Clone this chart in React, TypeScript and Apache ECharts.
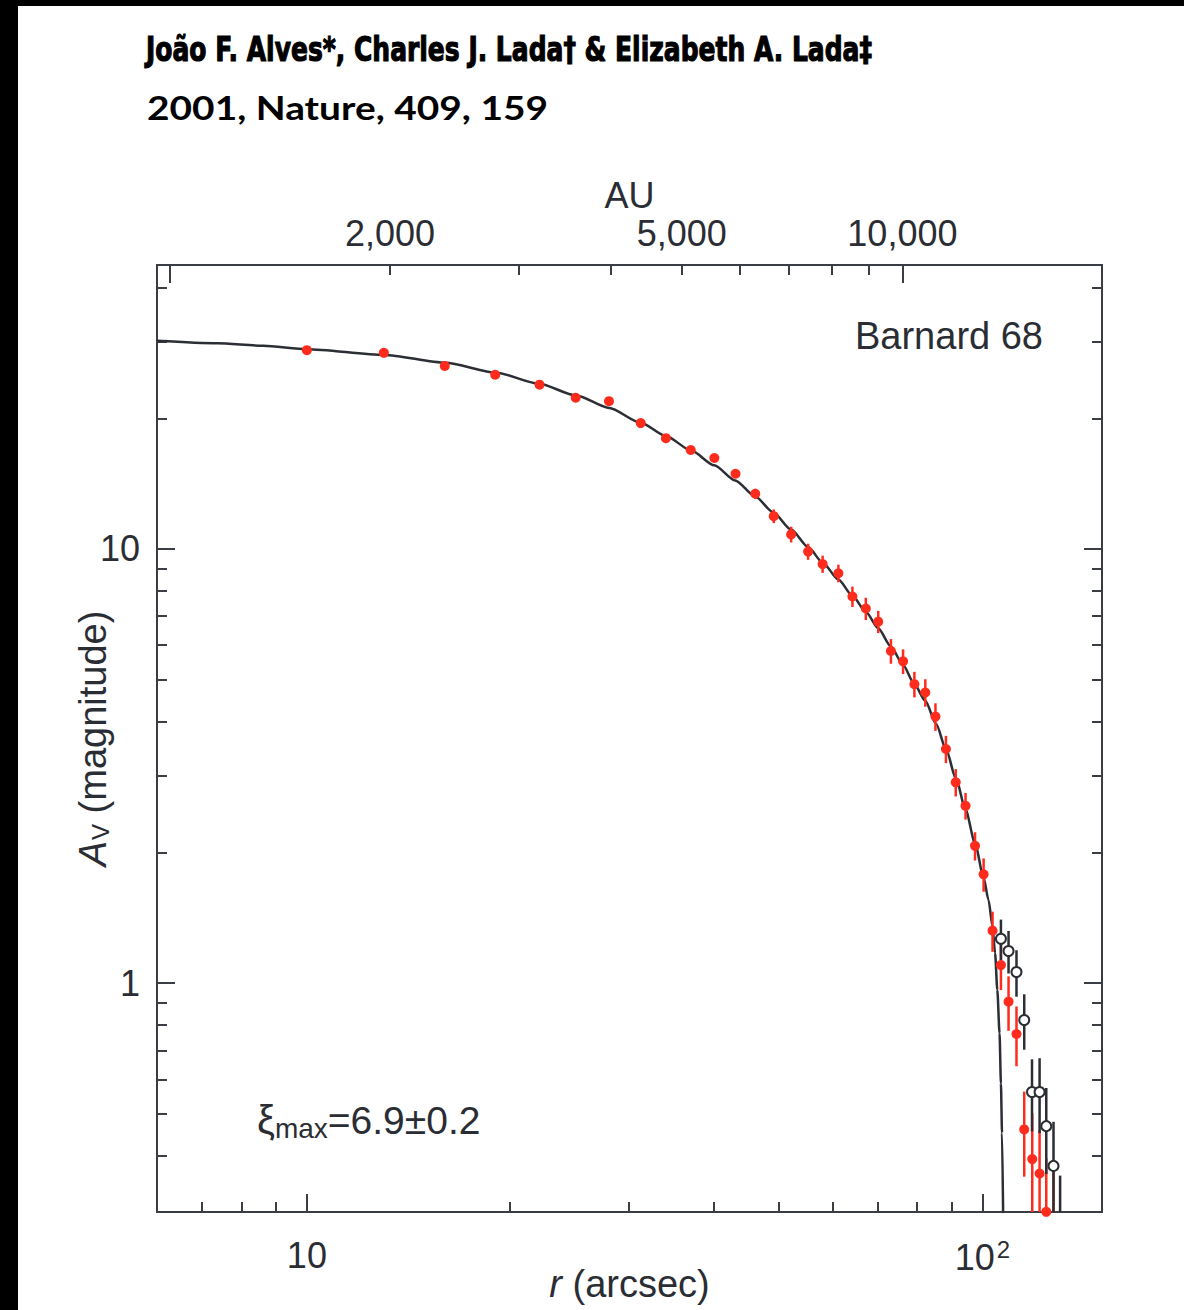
import React, { useEffect, useRef } from "react";
import * as echarts from "echarts";

// ---------------- data ----------------
// red filled points: radius (arcsec), A_V (mag), 1-sigma error (mag)
const redRadius = [10.0, 13.0, 16.0, 19.0, 22.1, 25.0, 28.0, 31.2, 34.0, 37.0, 40.1, 43.1, 46.1, 49.1, 52.1, 55.2, 58.0, 61.2, 64.2, 67.2, 70.1, 73.2, 76.3, 79.3, 82.3, 85.2, 88.3, 91.3, 94.4, 97.5, 100.4, 103.5, 106.5, 109.3, 112.3, 115.3, 118.5, 121.5, 124.3, 127.4];
const redAv = [28.7, 28.3, 26.4, 25.2, 23.9, 22.3, 21.9, 19.5, 18.0, 16.9, 16.2, 14.9, 13.4, 11.9, 10.8, 9.86, 9.23, 8.79, 7.77, 7.29, 6.80, 5.82, 5.51, 4.88, 4.67, 4.11, 3.46, 2.90, 2.56, 2.07, 1.78, 1.32, 1.10, 0.906, 0.763, 0.460, 0.393, 0.364, 0.297, 0.28];
const redErr = [0.1, 0.1, 0.1, 0.1, 0.1, 0.1, 0.1, 0.15, 0.15, 0.15, 0.2, 0.25, 0.36, 0.43, 0.45, 0.42, 0.42, 0.41, 0.42, 0.43, 0.40, 0.38, 0.36, 0.33, 0.34, 0.30, 0.25, 0.21, 0.18, 0.155, 0.157, 0.14, 0.137, 0.13, 0.12, 0.102, 0.108, 0.094, 0.098, 0.10];

// open (black) points
const openRadius = [106.5, 109.3, 112.3, 115.3, 118.4, 121.5, 124.3, 127.4, 130.3];
const openAv = [1.265, 1.185, 1.06, 0.822, 0.561, 0.561, 0.468, 0.379, 0.26];
const openErr = [0.135, 0.133, 0.13, 0.12, 0.106, 0.11, 0.105, 0.10, 0.10];

// Bonnor-Ebert fit curve (xi_max = 6.9)
const fitRadius = [6.0, 7.37, 8.62, 10.0, 13.02, 16.03, 19.07, 22.0, 25.04, 28.03, 31.15, 34.03, 37.06, 40.09, 43.05, 46.1, 49.0, 52.1, 55.2, 58.1, 61.2, 64.2, 67.3, 70.1, 73.2, 76.3, 79.2, 82.3, 85.4, 88.4, 91.4, 94.4, 97.5, 100.35, 102.1, 103.5, 104.4, 105.2, 106.0, 106.5, 106.9, 107.3];
const fitAv = [30.16, 29.76, 29.37, 28.85, 27.99, 26.85, 25.47, 24.05, 22.57, 21.13, 19.56, 18.19, 16.85, 15.58, 14.38, 13.21, 12.15, 11.08, 10.1, 9.275, 8.5, 7.8, 7.14, 6.57, 5.96, 5.4, 4.9, 4.47, 3.95, 3.44, 2.95, 2.51, 2.1, 1.755, 1.553, 1.348, 1.171, 0.964, 0.766, 0.587, 0.451, 0.295];

// ticks and labels
const xMajorTicks = [10, 100];
const xMinorTicks = [7, 8, 9, 20, 30, 40, 50, 60, 70, 80, 90];
const xTickLabels = [10, 100];
const yMajorTicks = [1, 10];
const yMinorTicks = [0.4, 0.5, 0.6, 0.7, 0.8, 0.9, 2, 3, 4, 5, 6, 7, 8, 9, 20, 30, 40];
const yTickLabels = [1, 10];
const auMajorTicks = [1000, 10000];
const auMinorTicks = [2000, 3000, 4000, 5000, 6000, 7000, 8000, 9000];
const auTickLabels = [2000, 5000, 10000];

const headerAuthors = "João F. Alves*, Charles J. Lada† & Elizabeth A. Lada‡";
const headerRef = "2001, Nature, 409, 159";
const objectName = "Barnard 68";

// axis ranges
const X_MIN = 6.0;
const X_MAX = 150.3;
const AU_MIN = 962;
const AU_MAX = 18720;
const Y_MIN = 0.2968;
const Y_MAX = 45.1;

// ---------------- styles ----------------
const TEXT = "#2a2d33";
const FRAME = "#3a3d43";
const RED = "#ff2b1c";
const DARK = "#2b2e34";
const FONT = '"Liberation Sans", Arial, Helvetica, sans-serif';

function fitScale(text: string, font: string, target: number) {
  const c = document.createElement("canvas").getContext("2d");
  if (!c) return 1;
  c.font = font;
  const w = c.measureText(text).width;
  return w > 0 ? target / w : 1;
}

function tickAxis(position: string, min: number, max: number, ticks: number[], len: number) {
  return {
    type: "log",
    logBase: 10,
    position,
    min,
    max,
    axisLine: { show: false },
    splitLine: { show: false },
    minorTick: { show: false },
    axisTick: { show: true, inside: true, length: len, customValues: ticks, lineStyle: { color: FRAME, width: 2 } },
    axisLabel: { show: false },
  };
}

function errorBars(rs: number[], vals: number[], errs: number[], color: string, width: number) {
  return {
    type: "custom",
    xAxisIndex: 0,
    yAxisIndex: 0,
    clip: true,
    silent: true,
    z: 2,
    data: rs.map((r, i) => [r, vals[i] - errs[i], vals[i] + errs[i]]),
    encode: { x: 0, y: [1, 2] },
    renderItem: (params: any, api: any) => {
      const x = api.value(0);
      const lo = Math.max(api.value(1), 1e-4);
      const hi = api.value(2);
      const p1 = api.coord([x, lo]);
      const p2 = api.coord([x, hi]);
      const cs = params.coordSys;
      const yb = Math.min(p1[1], cs.y + cs.height);
      const yt = Math.max(p2[1], cs.y);
      if (yt >= yb) return null;
      return {
        type: "line",
        shape: { x1: p1[0], y1: yb, x2: p1[0], y2: yt },
        style: { stroke: color, lineWidth: width },
      };
    },
  };
}

export default function App() {
  const ref = useRef<HTMLDivElement>(null);

  useEffect(() => {
    if (!ref.current) return;
    const chart = echarts.init(ref.current, null, { renderer: "svg" });

    const h1Font = 'bold 34px "DejaVu Sans"';
    const h2Font = 'bold 32px Lato';
    const h1Scale = fitScale(headerAuthors, h1Font, 726);
    const h2Scale = fitScale(headerRef, h2Font, 401);

    const option: any = {
      animation: false,
      backgroundColor: "#ffffff",
      textStyle: { fontFamily: FONT, color: TEXT },
      grid: {
        left: 157,
        right: 82,
        top: 265,
        bottom: 98,
        show: true,
        borderColor: FRAME,
        borderWidth: 2,
        backgroundColor: "transparent",
        containLabel: false,
        outerBoundsMode: "none",
      },
      xAxis: [
        {
          type: "log",
          logBase: 10,
          position: "bottom",
          min: X_MIN,
          max: X_MAX,
          axisLine: { show: false },
          splitLine: { show: false },
          minorTick: { show: false },
          axisTick: { show: true, inside: true, length: 18, customValues: xMajorTicks, lineStyle: { color: FRAME, width: 2 } },
          axisLabel: {
            show: true,
            customValues: xTickLabels,
            margin: 25,
            color: TEXT,
            fontSize: 36,
            fontFamily: FONT,
            formatter: (v: number) => (v >= 50 ? "10{sup|2}" : "10"),
            rich: { sup: { fontSize: 24, color: TEXT, fontFamily: FONT, padding: [0, 0, 16, 2] } },
          },
          name: "{i|r} (arcsec)",
          nameLocation: "middle",
          nameGap: 53,
          nameMoveOverlap: false,
          nameTextStyle: {
            color: TEXT,
            fontSize: 38,
            fontFamily: FONT,
            rich: { i: { fontStyle: "italic", fontSize: 38, color: TEXT, fontFamily: FONT } },
          },
        },
        tickAxis("bottom", X_MIN, X_MAX, xMinorTicks, 10),
        {
          type: "log",
          logBase: 10,
          position: "top",
          min: AU_MIN,
          max: AU_MAX,
          axisLine: { show: false },
          splitLine: { show: false },
          minorTick: { show: false },
          axisTick: { show: true, inside: true, length: 18, customValues: auMajorTicks, lineStyle: { color: FRAME, width: 2 } },
          axisLabel: {
            show: true,
            customValues: auTickLabels,
            margin: 14,
            color: TEXT,
            fontSize: 36,
            fontFamily: FONT,
            formatter: (v: number) => Math.round(v).toLocaleString("en-US"),
          },
          name: "AU",
          nameLocation: "middle",
          nameGap: 52,
          nameMoveOverlap: false,
          nameTextStyle: { color: TEXT, fontSize: 36, fontFamily: FONT },
        },
        tickAxis("top", AU_MIN, AU_MAX, auMinorTicks, 10),
      ],
      yAxis: [
        {
          type: "log",
          logBase: 10,
          position: "left",
          min: Y_MIN,
          max: Y_MAX,
          axisLine: { show: false },
          splitLine: { show: false },
          minorTick: { show: false },
          axisTick: { show: true, inside: true, length: 18, customValues: yMajorTicks, lineStyle: { color: FRAME, width: 2 } },
          axisLabel: {
            show: true,
            customValues: yTickLabels,
            margin: 17,
            color: TEXT,
            fontSize: 36,
            fontFamily: FONT,
            formatter: (v: number) => String(Math.round(v)),
          },
          name: "{i|A}{s|V} (magnitude)",
          nameLocation: "middle",
          nameGap: 45,
          nameMoveOverlap: false,
          nameTextStyle: {
            color: TEXT,
            fontSize: 38,
            fontFamily: FONT,
            rich: {
              i: { fontStyle: "italic", fontSize: 38, color: TEXT, fontFamily: FONT },
              s: { fontSize: 24, color: TEXT, fontFamily: FONT, padding: [14, 0, 0, 1] },
            },
          },
        },
        tickAxis("left", Y_MIN, Y_MAX, yMinorTicks, 10),
        tickAxis("right", Y_MIN, Y_MAX, yMajorTicks, 18),
        tickAxis("right", Y_MIN, Y_MAX, yMinorTicks, 10),
      ],
      series: [
        {
          type: "line",
          name: "fit",
          xAxisIndex: 0,
          yAxisIndex: 0,
          data: fitRadius.map((r, i) => [r, fitAv[i]]),
          showSymbol: false,
          symbol: "none",
          smooth: 0.25,
          smoothMonotone: "x",
          clip: true,
          lineStyle: { color: DARK, width: 2.5 },
          z: 1,
        },
        errorBars(redRadius, redAv, redErr, RED, 2.5),
        errorBars(openRadius, openAv, openErr, DARK, 2.5),
        {
          type: "scatter",
          name: "red",
          xAxisIndex: 0,
          yAxisIndex: 0,
          data: redRadius.map((r, i) => [r, redAv[i]]),
          symbol: "circle",
          symbolSize: 10,
          clip: true,
          itemStyle: { color: RED, opacity: 1 },
          z: 3,
        },
        {
          type: "scatter",
          name: "open",
          xAxisIndex: 0,
          yAxisIndex: 0,
          data: openRadius.map((r, i) => [r, openAv[i]]),
          symbol: "circle",
          symbolSize: 10,
          clip: true,
          itemStyle: { color: "#ffffff", borderColor: DARK, borderWidth: 2, opacity: 1 },
          z: 4,
        },
      ],
      graphic: [
        { type: "rect", shape: { x: 0, y: 0, width: 18, height: 1310 }, style: { fill: "#000" }, z: 100 },
        { type: "rect", shape: { x: 0, y: 0, width: 1184, height: 6 }, style: { fill: "#000" }, z: 100 },
        {
          type: "text",
          x: 146,
          y: 49,
          scaleX: h1Scale,
          style: {
            text: headerAuthors,
            font: h1Font,
            fill: "#000",
            stroke: "#000",
            lineWidth: 1.2,
            align: "left",
            verticalAlign: "middle",
          },
          z: 100,
        },
        {
          type: "text",
          x: 147,
          y: 108,
          scaleX: h2Scale,
          style: { text: headerRef, font: h2Font, fill: "#000", align: "left", verticalAlign: "middle" },
          z: 100,
        },
        {
          type: "text",
          x: 1043,
          y: 336,
          style: { text: objectName, font: '38px "Liberation Sans"', fill: TEXT, align: "right", verticalAlign: "middle" },
          z: 100,
        },
        {
          type: "text",
          x: 257,
          y: 1120,
          style: {
            text: "{g|ξ}{s|max}{n|=6.9±0.2}",
            align: "left",
            verticalAlign: "middle",
            fill: TEXT,
            rich: {
              g: { fontSize: 40, fontFamily: FONT, fill: TEXT },
              s: { fontSize: 28, fontFamily: FONT, fill: TEXT, padding: [16, 0, 0, 0] },
              n: { fontSize: 39, fontFamily: FONT, fill: TEXT },
            },
          },
          z: 100,
        },
      ],
    };

    chart.setOption(option);
    return () => chart.dispose();
  }, []);

  return (
    <div
      ref={ref}
      style={{ position: "fixed", left: 0, top: 0, width: 1184, height: 1310, background: "#fff" }}
    />
  );
}
